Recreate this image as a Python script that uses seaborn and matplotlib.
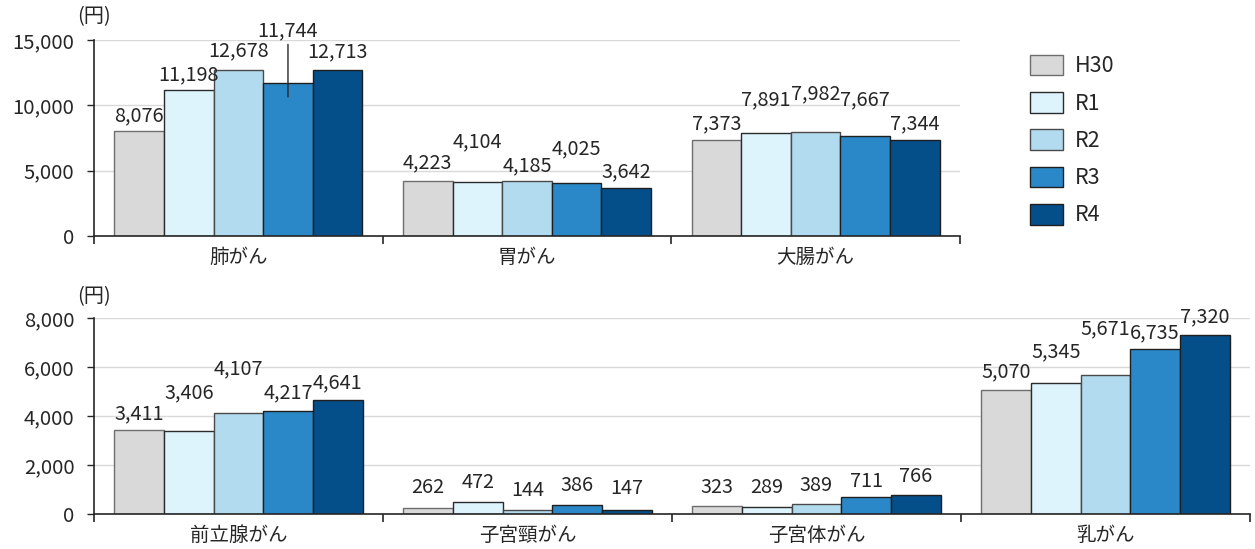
import matplotlib
matplotlib.use("Agg")
import matplotlib.pyplot as plt
import matplotlib.ticker as mticker
import numpy as np
import pandas as pd
import seaborn as sns
from matplotlib.patches import Patch

YEARS = ["H30", "R1", "R2", "R3", "R4"]
TOP_CATS = ["肺がん", "胃がん", "大腸がん"]
BOTTOM_CATS = ["前立腺がん", "子宮頸がん", "子宮体がん", "乳がん"]

TOP_H30 = [8076, 4223, 7373]
TOP_R1 = [11198, 4104, 7891]
TOP_R2 = [12678, 4185, 7982]
TOP_R3 = [11744, 4025, 7667]
TOP_R4 = [12713, 3642, 7344]

BOT_H30 = [3411, 262, 323, 5070]
BOT_R1 = [3406, 472, 289, 5345]
BOT_R2 = [4107, 144, 389, 5671]
BOT_R3 = [4217, 386, 711, 6735]
BOT_R4 = [4641, 147, 766, 7320]

COLORS = {"H30": "#D9D9D9", "R1": "#DDF4FC", "R2": "#B3DBEF", "R3": "#2A88C8", "R4": "#044E8A"}
EDGES = {"H30": "#6E6E6E", "R1": "#2B2B2B", "R2": "#4A4A4A", "R3": "#1F1F1F", "R4": "#1F1F1F"}

# label lift above bar top, in pixels (hand-placed like the original)
TOP_LIFT = {"H30": [15, 18, 16], "R1": [15, 41, 33], "R2": [20, 16, 38], "R3": [52, 35, 36], "R4": [18, 17, 16]}
BOT_LIFT = {"H30": [17, 20, 19, 18], "R1": [38, 20, 19, 31], "R2": [45, 20, 19, 46],
            "R3": [18, 19, 15, 16], "R4": [17, 22, 19, 18]}

INK = "#262626"
FONT = ["Noto Sans CJK JP", "DejaVu Sans"]
FS = 14.3

sns.set_theme(style="white")
plt.rcParams["font.family"] = FONT
plt.rcParams["text.color"] = INK
plt.rcParams["xtick.color"] = INK
plt.rcParams["ytick.color"] = INK


def long_frame(cats, series):
    rows = []
    for year, vals in zip(YEARS, series):
        for cat, v in zip(cats, vals):
            rows.append({"cat": cat, "year": year, "value": v})
    return pd.DataFrame(rows)


def draw_panel(ax, cats, series, ymax, step, lifts, unit_lift, leader=None):
    df = long_frame(cats, series)
    sns.barplot(data=df, x="cat", y="value", hue="year", order=cats, hue_order=YEARS,
                palette=COLORS, width=0.86, ax=ax, legend=False, saturation=1)
    for year, container in zip(YEARS, ax.containers):
        for i, bar in enumerate(container):
            bar.set_edgecolor(EDGES[year])
            bar.set_linewidth(1.0)
            x = bar.get_x() + bar.get_width() / 2
            v = bar.get_height()
            lift = lifts[year][i]
            if leader is not None and leader == (year, i):
                drop = v * 0.093
                ax.annotate(f"{v:,.0f}", xy=(x, v - drop), xytext=(0, lift + drop / ymax * 196),
                            textcoords="offset pixels", ha="center", va="center", fontsize=FS,
                            arrowprops=dict(arrowstyle="-", color=INK, lw=1.0, shrinkA=0, shrinkB=0,
                                            relpos=(0.5, 0.0)))
            else:
                ax.annotate(f"{v:,.0f}", xy=(x, v), xytext=(0, lift), textcoords="offset pixels",
                            ha="center", va="center", fontsize=FS)
    ax.set_ylim(0, ymax)
    ax.set_xlim(-0.5, len(cats) - 0.5)
    ax.yaxis.set_major_locator(mticker.MultipleLocator(step))
    ax.yaxis.set_major_formatter(mticker.StrMethodFormatter("{x:,.0f}"))
    ax.set_xlabel("")
    ax.set_ylabel("")
    ax.grid(axis="y", color="#D9D9D9", linewidth=1.0)
    ax.set_axisbelow(True)
    for side in ["top", "right"]:
        ax.spines[side].set_visible(False)
    for side in ["left", "bottom"]:
        ax.spines[side].set_color(INK)
        ax.spines[side].set_linewidth(1.2)
    ax.tick_params(axis="y", labelsize=14.6, length=5, width=1.0, direction="out", left=True, pad=9)
    ax.tick_params(axis="x", which="major", length=0, labelsize=14, pad=8)
    ax.set_xticks(np.arange(-0.5, len(cats)), minor=True)
    ax.tick_params(axis="x", which="minor", length=6, width=1.2, direction="out", bottom=True)
    ax.annotate("(円)", xy=(0, 1), xycoords="axes fraction", xytext=(-17, unit_lift),
                textcoords="offset pixels", fontsize=14.5, ha="left", va="center")


fig = plt.figure(figsize=(12.55, 5.49), dpi=100)
ax_top = fig.add_axes([0.0749, 0.570, 0.690, 0.357])
ax_bot = fig.add_axes([0.0749, 0.0638, 0.921, 0.357])

draw_panel(ax_top, TOP_CATS, [TOP_H30, TOP_R1, TOP_R2, TOP_R3, TOP_R4], 15000, 5000, TOP_LIFT, 23,
           leader=("R3", 0))
draw_panel(ax_bot, BOTTOM_CATS, [BOT_H30, BOT_R1, BOT_R2, BOT_R3, BOT_R4], 8000, 2000, BOT_LIFT, 21)

handles = [Patch(facecolor=COLORS[y], edgecolor=EDGES[y], linewidth=1.0, label=y) for y in YEARS]
fig.legend(handles=handles, loc="upper left", bbox_to_anchor=(0.8207, 0.9004), frameon=False,
           fontsize=15.5, handlelength=1.55, handleheight=1.1, labelspacing=0.68, handletextpad=0.55,
           borderaxespad=0, borderpad=0)

fig.savefig("out.png", dpi=100)
